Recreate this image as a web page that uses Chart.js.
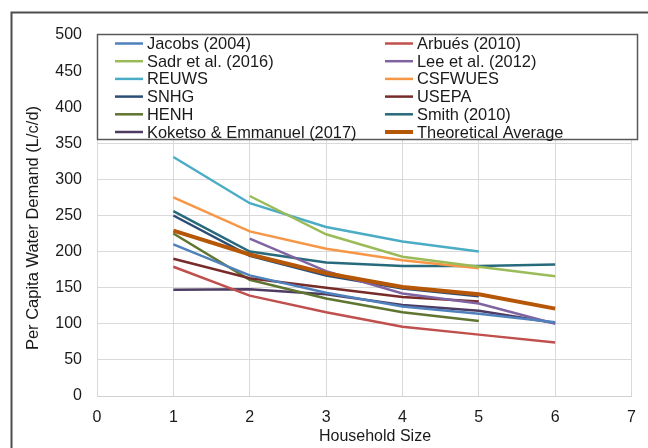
<!DOCTYPE html>
<html>
<head>
<meta charset="utf-8">
<script src="https://cdn.jsdelivr.net/npm/chart.js@4.4.1/dist/chart.umd.min.js"></script>
<style>
  html, body { margin: 0; padding: 0; background: #ffffff; }
  #wrap { width: 648px; height: 448px; position: relative; }
</style>
</head>
<body>
<div id="wrap"><canvas id="c" width="648" height="448"></canvas></div>
<script>
// Household size (persons) on the x axis
const householdSize = [1, 2, 3, 4, 5, 6];

// Per capita water demand (L/c/d) reported by each source; null = not reported
const jacobs2004   = [210, 167, 143, 124, 114, 102];
const arbues2010   = [179, 139, 116,  96,  85,  74];
const sadr2016     = [null, 277, 224, 193, 179, 166];
const lee2012      = [null, 218, 173, 142, 128, 100];
const reuws        = [331, 267, 234, 214, 200, null];
const csfwues      = [275, 228, 204, 188, 177, null];
const snhg         = [250, 194, 167, 149, 138, null];
const usepa        = [190, 163, 150, 137, 131, null];
const henh         = [225, 161, 135, 116, 104, null];
const smith2010    = [256, 200, 185, 180, 180, 182];
const koketso2017  = [147, 148, 141, 126, 118, 101];
const theoAverage  = [229, 196, 170, 151, 141, 121];

const seriesNames = [
  'Jacobs (2004)', 'Arbués (2010)', 'Sadr et al. (2016)', 'Lee et al. (2012)',
  'REUWS', 'CSFWUES', 'SNHG', 'USEPA', 'HENH', 'Smith (2010)',
  'Koketso & Emmanuel (2017)', 'Theoretical Average'
];
const seriesValues = [
  jacobs2004, arbues2010, sadr2016, lee2012, reuws, csfwues,
  snhg, usepa, henh, smith2010, koketso2017, theoAverage
];
const seriesColors = [
  '#4F81BD', '#C0504D', '#9BBB59', '#8064A2', '#4BACC6', '#F79646',
  '#2C4D75', '#772C2A', '#5F7530', '#276A7C', '#4D3B62', '#B65708'
];

const xTicks = [0, 1, 2, 3, 4, 5, 6, 7];
const yTicks = [0, 50, 100, 150, 200, 250, 300, 350, 400, 450, 500];

const FONT = '"Liberation Sans", Arial, sans-serif';
const TEXT = '#1a1a1a';

const datasets = seriesNames.map((name, i) => ({
  label: name,
  data: householdSize.map((h, k) => ({ x: h, y: seriesValues[i][k] })),
  borderColor: seriesColors[i],
  backgroundColor: seriesColors[i],
  borderWidth: i === 11 ? 4 : 2.5,
  pointRadius: 0,
  pointHoverRadius: 0,
  tension: 0,
  spanGaps: false,
  order: i === 11 ? 0 : 1
}));

// Frame, axis titles and the two-column boxed legend
const decorations = {
  id: 'decorations',
  beforeDraw(chart) {
    const ctx = chart.ctx;
    ctx.save();
    ctx.fillStyle = '#ffffff';
    ctx.fillRect(0, 0, chart.width, chart.height);
    ctx.strokeStyle = '#4d4d4d';
    ctx.lineWidth = 2;
    ctx.strokeRect(11.5, 12.5, chart.width + 20, chart.height + 20);
    ctx.restore();
  },
  afterDraw(chart) {
    const ctx = chart.ctx;
    const area = chart.chartArea;
    ctx.save();
    // axis titles
    ctx.fillStyle = TEXT;
    ctx.font = '16px ' + FONT;
    ctx.textAlign = 'center';
    ctx.textBaseline = 'middle';
    ctx.fillText('Household Size', 375, 437);
    ctx.translate(33, 228);
    ctx.rotate(-Math.PI / 2);
    ctx.font = '16.5px ' + FONT;
    ctx.fillText('Per Capita Water Demand (L/c/d)', 0, 0);
    ctx.restore();

    // legend box
    ctx.save();
    const bx = area.left, by = 34, bw = 541, bh = 106;
    ctx.fillStyle = '#ffffff';
    ctx.fillRect(bx, by, bw, bh);
    ctx.strokeStyle = '#595959';
    ctx.lineWidth = 1.5;
    ctx.strokeRect(bx + 0.5, by + 0.5, bw - 1, bh - 1);
    ctx.font = '16.4px ' + FONT;
    ctx.textAlign = 'left';
    ctx.textBaseline = 'middle';
    const colLine = [115, 385];
    const rowY0 = 43.5, rowStep = 17.7;
    chart.data.datasets.forEach((ds, i) => {
      const col = i % 2, row = Math.floor(i / 2);
      const y = rowY0 + row * rowStep;
      const x = colLine[col];
      ctx.strokeStyle = ds.borderColor;
      ctx.lineWidth = ds.borderWidth;
      ctx.beginPath();
      ctx.moveTo(x, y);
      ctx.lineTo(x + 28, y);
      ctx.stroke();
      ctx.fillStyle = TEXT;
      ctx.fillText(ds.label, x + 32, y + 1);
    });
    ctx.restore();
  }
};

new Chart(document.getElementById('c'), {
  type: 'line',
  data: { datasets },
  options: {
    responsive: false,
    animation: false,
    events: [],
    layout: { padding: { top: 35, right: 8, left: 0, bottom: 0 } },
    plugins: {
      legend: { display: false },
      tooltip: { enabled: false },
      title: { display: false }
    },
    scales: {
      x: {
        type: 'linear',
        min: 0,
        max: 7,
        afterBuildTicks(scale) { scale.ticks = xTicks.map(v => ({ value: v })); },
        afterFit(scale) { scale.height = 52; },
        grid: { color: '#d9d9d9', lineWidth: 1, drawTicks: false },
        border: { display: true, color: '#d0d0d0' },
        ticks: {
          color: TEXT,
          padding: 12,
          font: { family: FONT, size: 16 },
          maxRotation: 0
        }
      },
      y: {
        type: 'linear',
        min: 0,
        max: 500,
        afterBuildTicks(scale) { scale.ticks = yTicks.map(v => ({ value: v })); },
        afterFit(scale) { scale.width = 97; },
        grid: { color: '#d9d9d9', lineWidth: 1, drawTicks: false },
        border: { display: false },
        ticks: {
          color: TEXT,
          padding: 15,
          font: { family: FONT, size: 16 }
        }
      }
    }
  },
  plugins: [decorations]
});
</script>
</body>
</html>
